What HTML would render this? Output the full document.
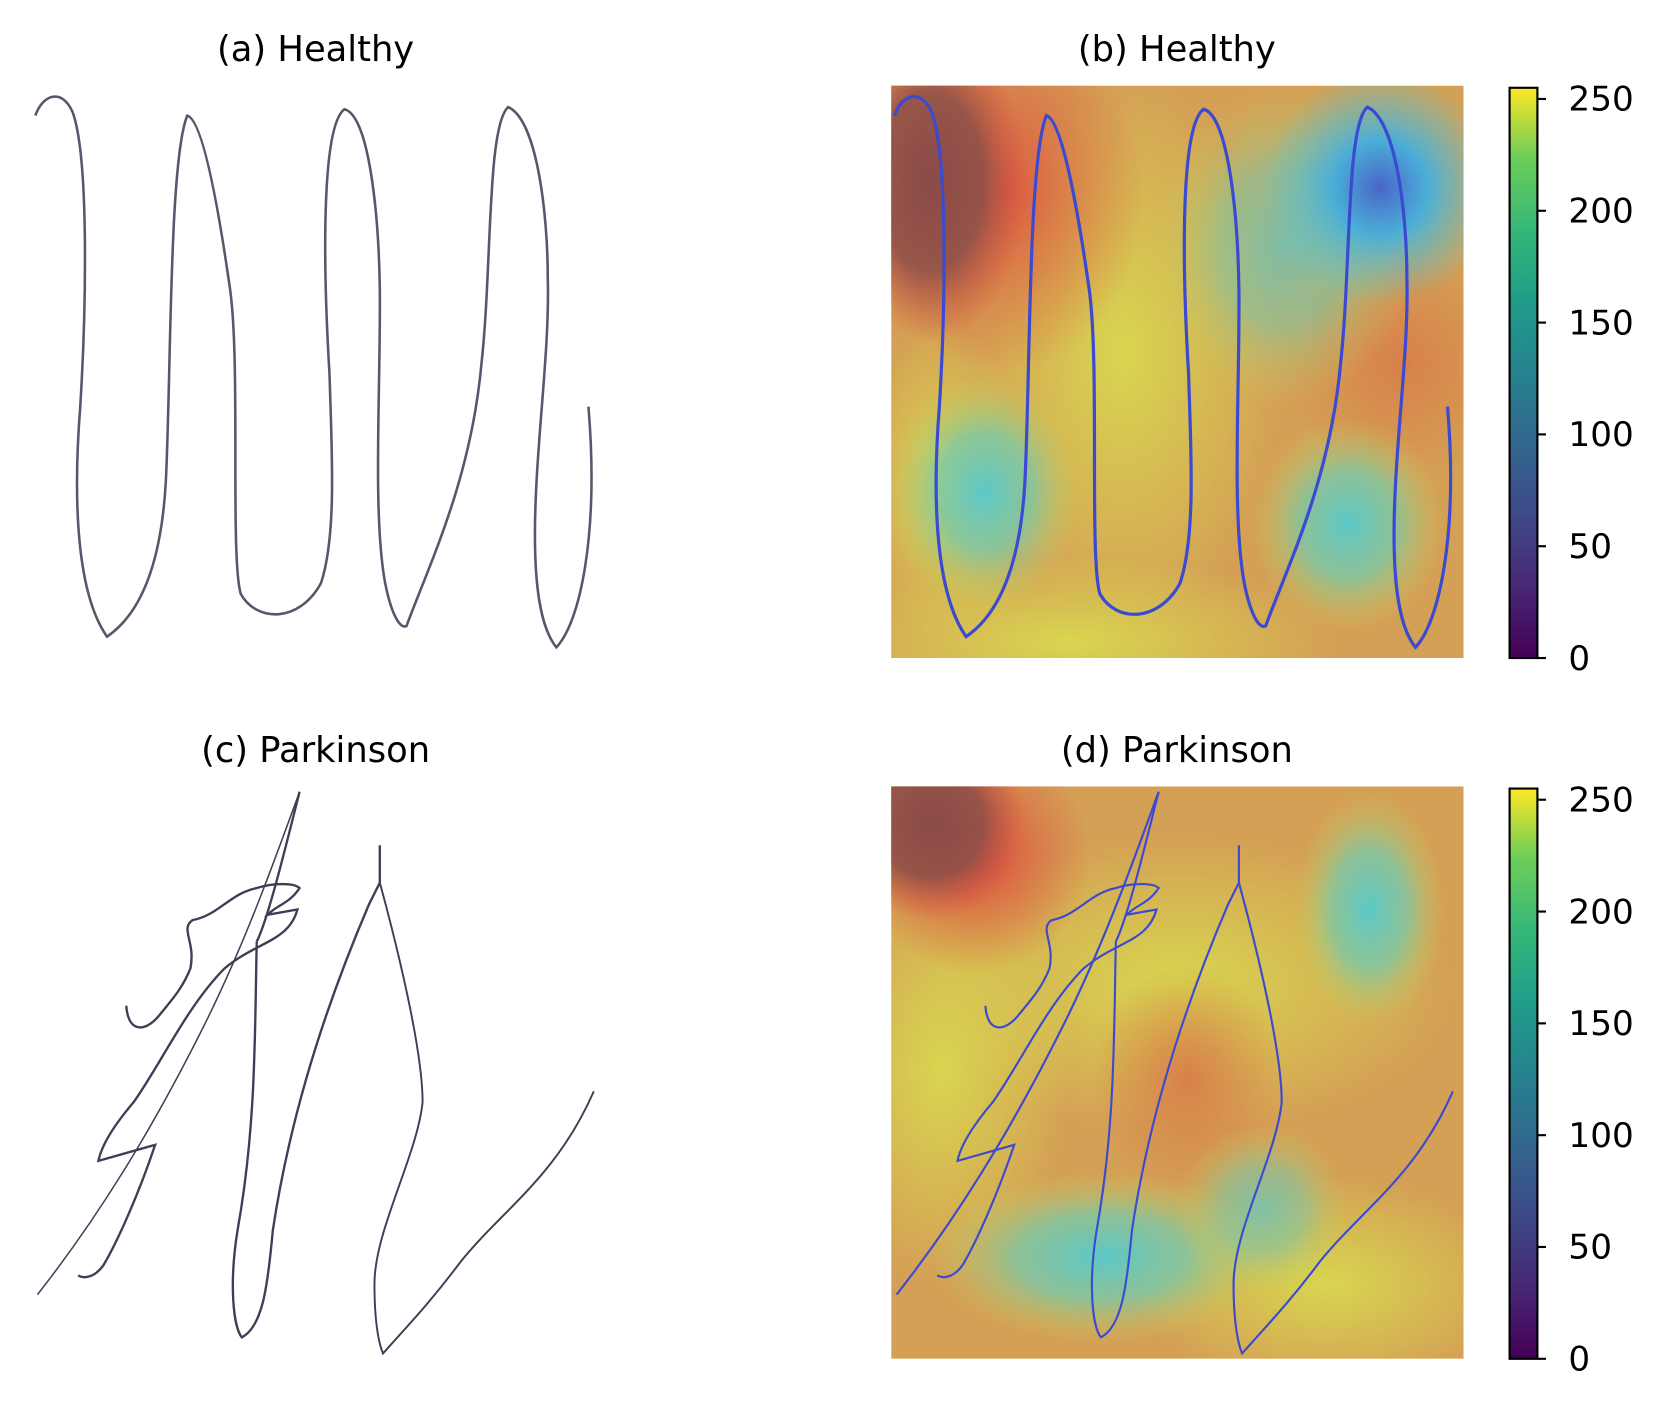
<!DOCTYPE html>
<html><head><meta charset="utf-8"><style>
html,body{margin:0;padding:0;background:#fff;}
svg{display:block;}
text{font-family:"DejaVu Sans","Liberation Sans",sans-serif;fill:#000;}
</style></head><body>
<svg id="fig" width="1669" height="1407" viewBox="0 0 1560 1315" xmlns="http://www.w3.org/2000/svg">
<defs>
<linearGradient id="viridis" x1="0" y1="1" x2="0" y2="0">
<stop offset="0" stop-color="#440154"/><stop offset="0.13" stop-color="#482878"/>
<stop offset="0.25" stop-color="#3e4989"/><stop offset="0.38" stop-color="#31688e"/>
<stop offset="0.5" stop-color="#26828e"/><stop offset="0.63" stop-color="#1f9e89"/>
<stop offset="0.75" stop-color="#35b779"/><stop offset="0.88" stop-color="#6ece58"/>
<stop offset="1" stop-color="#fde725"/></linearGradient>
<radialGradient id="gDark"><stop offset="0" stop-color="#8a4a48"/><stop offset="0.55" stop-color="#8f5048" stop-opacity="0.9"/><stop offset="1" stop-color="#d8503f" stop-opacity="0"/></radialGradient>
<radialGradient id="gRed"><stop offset="0" stop-color="#de4e3e"/><stop offset="1" stop-color="#de4e3e" stop-opacity="0"/></radialGradient>
<radialGradient id="gCyan"><stop offset="0" stop-color="#5cc9c8"/><stop offset="0.5" stop-color="#7cc8a6" stop-opacity="0.8"/><stop offset="1" stop-color="#c8d060" stop-opacity="0"/></radialGradient>
<radialGradient id="gBlue"><stop offset="0" stop-color="#4a66c8"/><stop offset="0.4" stop-color="#4aaed8"/><stop offset="1" stop-color="#5cc9d0" stop-opacity="0"/></radialGradient>
<radialGradient id="gYel"><stop offset="0" stop-color="#d8d650"/><stop offset="1" stop-color="#d8d650" stop-opacity="0"/></radialGradient>
<radialGradient id="gOr"><stop offset="0" stop-color="#d8804a"/><stop offset="1" stop-color="#d8804a" stop-opacity="0"/></radialGradient>
<clipPath id="cb"><rect x="833" y="80" width="535" height="535"/></clipPath>
<clipPath id="cd"><rect x="833" y="735" width="535" height="535"/></clipPath>
<path id="hpath" d="M33,108 C40,88 58,82 68,105 C84,150 80,300 75,380 C68,470 72,555 100,595 C125,578 150,540 155,450 C160,350 158,150 175,108 C190,112 205,200 215,270 C225,340 215,520 225,555 C240,582 280,582 300,545 C315,500 310,420 308,350 C302,250 300,118 322,102 C345,108 354,200 355,270 C356,360 348,480 360,545 C366,575 374,588 380,585 C400,530 440,450 450,340 C460,250 455,118 475,100 C502,112 512,200 512,260 C514,330 500,420 500,500 C500,560 508,590 520,605 C542,582 560,500 550,380"/>
</defs>

<text x="295" y="57" font-size="33" text-anchor="middle">(a) Healthy</text>
<text x="1100" y="57" font-size="33" text-anchor="middle">(b) Healthy</text>
<text x="295" y="712" font-size="33" text-anchor="middle">(c) Parkinson</text>
<text x="1100" y="712" font-size="33" text-anchor="middle">(d) Parkinson</text>

<g fill="none" stroke="#55586a" stroke-width="2.4">
<use href="#hpath"/>
</g>

<g fill="none" stroke="#3c3f55" stroke-width="2.2">
<path d="M35,1210 C90,1140 140,1060 190,960 C230,880 258,800 280,740" stroke-width="1.4"/>
<path d="M280,740 C265,800 250,860 240,880"/>
<path d="M118,940 C120,965 135,965 148,950 C160,935 170,925 178,905 C183,880 168,868 180,860 C205,855 215,835 240,830 C255,825 275,825 280,830 C270,845 260,845 250,855 L278,850 C270,880 240,880 210,905 C175,940 150,995 125,1030 C108,1050 95,1070 92,1085 L145,1070 C130,1115 110,1160 97,1182 C88,1195 78,1195 73,1192"/>
<path d="M240,880 C238,960 240,1050 222,1150 C214,1200 218,1240 226,1250 C245,1240 250,1205 255,1150 C270,1050 300,950 345,845 L355,825 L355,790"/>
<path d="M355,825 C370,880 395,980 395,1030 C390,1080 350,1150 350,1200 C350,1240 355,1258 358,1265 C380,1240 400,1220 430,1180 C470,1130 520,1100 555,1020" stroke-width="1.8"/>
</g>

<g clip-path="url(#cb)">
<rect x="833" y="80" width="535" height="535" fill="#d4a055"/>
<ellipse cx="1050" cy="330" rx="150" ry="260" fill="url(#gYel)"/>
<ellipse cx="1000" cy="600" rx="250" ry="80" fill="url(#gYel)"/>
<ellipse cx="880" cy="450" rx="80" ry="150" fill="url(#gYel)"/>
<ellipse cx="1310" cy="340" rx="110" ry="110" fill="url(#gOr)"/>
<ellipse cx="940" cy="180" rx="130" ry="170" fill="url(#gRed)" opacity="0.85"/>
<ellipse cx="870" cy="170" rx="90" ry="150" fill="url(#gDark)"/>
<ellipse cx="1200" cy="230" rx="120" ry="150" fill="url(#gCyan)" opacity="0.7"/>
<ellipse cx="1290" cy="175" rx="110" ry="110" fill="url(#gBlue)"/>
<ellipse cx="920" cy="460" rx="90" ry="110" fill="url(#gCyan)"/>
<ellipse cx="1260" cy="490" rx="90" ry="100" fill="url(#gCyan)"/>
<g transform="translate(803,0)" fill="none" stroke="#3b4ad0" stroke-width="3"><use href="#hpath"/></g>
</g>

<g clip-path="url(#cd)">
<rect x="833" y="735" width="535" height="535" fill="#d4a055"/>
<ellipse cx="1100" cy="920" rx="260" ry="140" fill="url(#gYel)"/>
<ellipse cx="880" cy="1000" rx="120" ry="200" fill="url(#gYel)"/>
<ellipse cx="1240" cy="1200" rx="180" ry="100" fill="url(#gYel)"/>
<ellipse cx="1110" cy="1010" rx="90" ry="110" fill="url(#gOr)"/>
<ellipse cx="910" cy="800" rx="110" ry="110" fill="url(#gRed)"/>
<ellipse cx="870" cy="770" rx="90" ry="90" fill="url(#gDark)"/>
<ellipse cx="1280" cy="850" rx="70" ry="110" fill="url(#gCyan)"/>
<ellipse cx="1030" cy="1175" rx="160" ry="80" fill="url(#gCyan)"/>
<ellipse cx="1180" cy="1130" rx="80" ry="80" fill="url(#gCyan)" opacity="0.7"/>
<g transform="translate(803,0)" fill="none" stroke="#3b4ad0" stroke-width="2">
<path d="M35,1210 C90,1140 140,1060 190,960 C230,880 258,800 280,740"/>
<path d="M280,740 C265,800 250,860 240,880"/>
<path d="M118,940 C120,965 135,965 148,950 C160,935 170,925 178,905 C183,880 168,868 180,860 C205,855 215,835 240,830 C255,825 275,825 280,830 C270,845 260,845 250,855 L278,850 C270,880 240,880 210,905 C175,940 150,995 125,1030 C108,1050 95,1070 92,1085 L145,1070 C130,1115 110,1160 97,1182 C88,1195 78,1195 73,1192"/>
<path d="M240,880 C238,960 240,1050 222,1150 C214,1200 218,1240 226,1250 C245,1240 250,1205 255,1150 C270,1050 300,950 345,845 L355,825 L355,790"/>
<path d="M355,825 C370,880 395,980 395,1030 C390,1080 350,1150 350,1200 C350,1240 355,1258 358,1265 C380,1240 400,1220 430,1180 C470,1130 520,1100 555,1020"/>
</g>
</g>

<g id="cbars"></g>
</svg>
<script>
const cbTicks = [0, 50, 100, 150, 200, 250];
const cbMax = 255;
const cbars = [{top:82, bottom:615, name:'b'}, {top:737, bottom:1270, name:'d'}];
const NS = 'http://www.w3.org/2000/svg';
const root = document.getElementById('cbars');
cbars.forEach(cb => {
  const y = v => cb.bottom - (v / cbMax) * (cb.bottom - cb.top);
  const g = document.createElementNS(NS, 'g');
  
  
  const r = document.createElementNS(NS, 'rect');
  
  
  r.setAttribute('x', 1411); r.setAttribute('y', cb.top);
  r.setAttribute('width', 26); r.setAttribute('height', cb.bottom - cb.top);
  r.setAttribute('fill', 'url(#viridis)'); r.setAttribute('stroke', '#000'); r.setAttribute('stroke-width', 2);
  g.appendChild(r);
  cbTicks.forEach(t => {
    const l = document.createElementNS(NS, 'line');
    
    
    l.setAttribute('x1', 1437); l.setAttribute('x2', 1445);
    l.setAttribute('y1', y(t)); l.setAttribute('y2', y(t));
    l.setAttribute('stroke', '#000'); l.setAttribute('stroke-width', 2);
    g.appendChild(l);
    const tx = document.createElementNS(NS, 'text');
    
    
    tx.setAttribute('x', 1466); tx.setAttribute('y', y(t) + 11);
    tx.setAttribute('font-size', 32);
    tx.textContent = t;
    g.appendChild(tx);
  });
  root.appendChild(g);
});
</script>
</body></html>
